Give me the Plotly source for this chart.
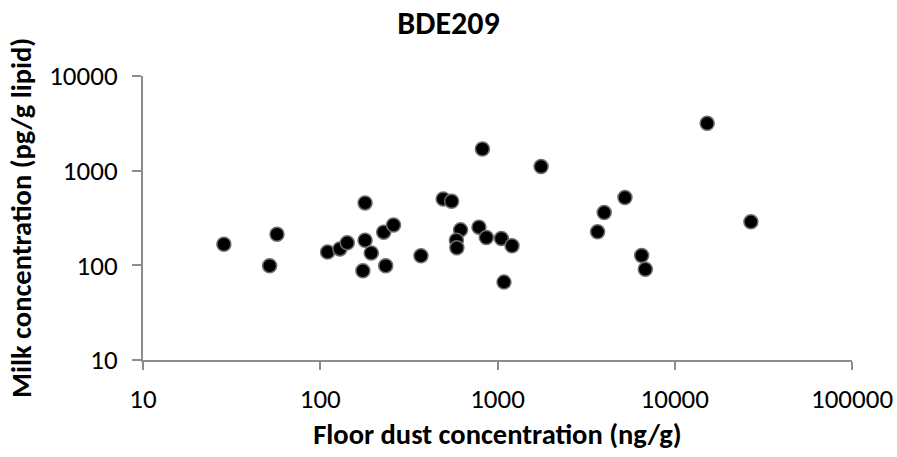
import plotly.graph_objects as go

# Floor dust concentration (ng/g) vs milk concentration (pg/g lipid), BDE209
dust = [28.6, 51.8, 57, 110, 129, 142, 179, 179, 194, 174, 228, 259, 234, 370,
        494, 551, 619, 586, 590, 822, 786, 865, 1052, 1208, 1088, 1762,
        3670, 4000, 5236, 6506, 6823, 15240, 26900]
milk = [167, 99, 213, 138, 149, 173, 456, 184, 135, 87.5, 224, 267, 99, 126,
        503, 475, 237, 184, 153, 1694, 253, 197, 192, 161, 66.5, 1105,
        226, 361, 520, 127, 91, 3162, 288]

x_ticks = [10, 100, 1000, 10000, 100000]
y_ticks = [10, 100, 1000, 10000]

FONT = "Carlito, Open Sans, sans-serif"
AXC = "#8c8c8c"

W, H = 897, 457
ML, MR, MT, MB = 143, 45, 76, 97
plot_w = W - ML - MR

fig = go.Figure()
fig.add_trace(go.Scatter(
    x=dust, y=milk, mode="markers",
    marker=dict(size=14, color="#000000", line=dict(color="#6e6e6e", width=1.5)),
    showlegend=False, hoverinfo="x+y"))

fig.update_layout(
    width=W, height=H,
    margin=dict(l=ML, r=MR, t=MT, b=MB),
    paper_bgcolor="white", plot_bgcolor="white",
    font=dict(family=FONT, color="#000000"),
    title=dict(text="<b>BDE209</b>", x=0.5, xanchor="center", y=0.95, yanchor="middle",
               font=dict(size=32, family=FONT, color="#000000")),
    xaxis=dict(type="log", range=[1, 5], tickvals=x_ticks,
               ticktext=[str(v) for v in x_ticks], automargin=False,
               showgrid=False, zeroline=False, showline=True, linecolor=AXC, linewidth=2,
               ticks="outside", ticklen=8, tickwidth=2, tickcolor=AXC,
               tickfont=dict(size=27, family=FONT), ticklabelstandoff=6,
               title=dict(text="<b>Floor dust concentration (ng/g)</b>",
                          font=dict(size=28.5, family=FONT), standoff=10)),
    yaxis=dict(type="log", range=[1, 4], tickvals=y_ticks,
               ticktext=[str(v) for v in y_ticks], automargin=False,
               showgrid=False, zeroline=False, showline=True, linecolor=AXC, linewidth=2,
               ticks="outside", ticklen=9, tickwidth=2, tickcolor=AXC,
               tickfont=dict(size=27, family=FONT), ticklabelstandoff=9),
    annotations=[dict(text="<b>Milk concentration (pg/g lipid)</b>",
                      xref="paper", yref="paper", x=(21 - ML) / plot_w, y=0.5,
                      xanchor="center", yanchor="middle", textangle=-90,
                      showarrow=False, font=dict(size=28.5, family=FONT, color="#000000"))],
)

fig.write_html("out.html")
